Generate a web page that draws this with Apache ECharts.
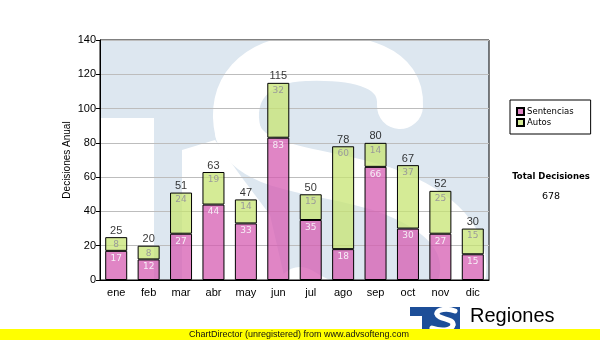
<!DOCTYPE html>
<html>
<head>
<meta charset="utf-8">
<script src="https://cdn.jsdelivr.net/npm/echarts@6/dist/echarts.min.js"></script>
<style>
  html, body { margin: 0; padding: 0; background: #fff; }
  #chart { width: 600px; height: 340px; }
</style>
</head>
<body>
<div id="chart"></div>
<script>
// Monthly decisions, split by type
const months = ['ene', 'feb', 'mar', 'abr', 'may', 'jun', 'jul', 'ago', 'sep', 'oct', 'nov', 'dic'];
const sentencias = [17, 12, 27, 44, 33, 83, 35, 18, 66, 30, 27, 15];
const autos = [8, 8, 24, 19, 14, 32, 15, 60, 14, 37, 25, 15];
const yTicks = { min: 0, max: 140, step: 20 };

const totals = months.map((m, i) => sentencias[i] + autos[i]);
const grandTotal = totals.reduce((a, b) => a + b, 0);

const chart = echarts.init(document.getElementById('chart'), null, { renderer: 'canvas' });

const sans = 'Liberation Sans, Arial, sans-serif';
const verd = 'DejaVu Sans, Verdana, sans-serif';

// Plot rectangle (pixels) used for the background emblem
const P = { x: 100, y: 40, w: 389, h: 240 };
const wash = '#dde7f0';

// a thick white stroke made of cubic segments [x1,y1,c1x,c1y,c2x,c2y,x2,y2]
function stroke(segs, width, z, cap) {
  return segs.map(s => ({
    type: 'bezierCurve', z: z, silent: true,
    shape: { x1: s[0], y1: s[1], cpx1: s[2], cpy1: s[3], cpx2: s[4], cpy2: s[5], x2: s[6], y2: s[7] },
    style: { fill: 'none', stroke: '#fff', lineWidth: width, lineCap: cap || 'round' }
  }));
}

const bigS = stroke([
  [400, 106, 402, 68, 362, 56, 305, 58],
  [305, 58, 255, 60, 228, 90, 238, 132],
  [238, 132, 250, 172, 330, 170, 385, 190],
  [385, 190, 440, 210, 470, 240, 462, 280],
  [462, 280, 455, 320, 360, 330, 300, 290]
], 46, -4);

const smallS = stroke([
  [455, 311, 448, 308, 436, 309, 437, 314],
  [437, 314, 438, 320, 454, 318, 453, 325],
  [453, 325, 452, 331, 440, 331, 432, 328]
], 5, 2);

const emblem = [
  // tinted plot background
  { type: 'rect', z: -5, silent: true, shape: { x: P.x, y: P.y, width: P.w, height: P.h }, style: { fill: wash } },
  // space beside the T stem
  { type: 'rect', z: -4, silent: true, shape: { x: P.x, y: 118, width: 54, height: 162 }, style: { fill: '#fff' } },
  { type: 'polygon', z: -4, silent: true,
    shape: { points: [[182, 150], [215, 140], [240, 175], [270, 215], [285, 280], [182, 280]] },
    style: { fill: '#fff' } },
  ...bigS,
  // small logo at the foot
  { type: 'rect', z: 1, silent: true, shape: { x: 410, y: 307, width: 50, height: 24 }, style: { fill: '#1d4e98' } },
  { type: 'rect', z: 1, silent: true, shape: { x: 410, y: 316, width: 12, height: 16 }, style: { fill: '#fff' } },
  ...smallS,
  { type: 'text', z: 2, silent: true, x: 470, y: 316,
    style: { text: 'Regiones', fill: '#000', font: '20px ' + sans, textVerticalAlign: 'middle' } },
  // footer band
  { type: 'rect', z: 3, silent: true, shape: { x: 0, y: 329, width: 600, height: 11 }, style: { fill: '#ffff00' } },
  { type: 'text', z: 4, silent: true, x: 299, y: 334.5,
    style: { text: 'ChartDirector (unregistered) from www.advsofteng.com', fill: '#111', font: '9px ' + sans, textAlign: 'center', textVerticalAlign: 'middle' } },
  // grand total
  { type: 'text', z: 4, silent: true, x: 551, y: 177,
    style: { text: 'Total Decisiones', fill: '#000', font: 'bold 8.5px ' + verd, textAlign: 'center', textVerticalAlign: 'middle' } },
  { type: 'text', z: 4, silent: true, x: 551, y: 197,
    style: { text: String(grandTotal), fill: '#000', font: '9.5px ' + verd, textAlign: 'center', textVerticalAlign: 'middle' } }
];

chart.setOption({
  animation: false,
  backgroundColor: '#fff',
  grid: {
    left: P.x, top: P.y, width: P.w, height: P.h,
    show: true, borderColor: '#000', borderWidth: 1, backgroundColor: 'transparent'
  },
  legend: {
    data: ['Sentencias', 'Autos'],
    orient: 'vertical', left: 510, top: 100,
    padding: [7, 17, 7, 6], itemGap: 2, itemWidth: 7, itemHeight: 7,
    borderColor: '#000', borderWidth: 1, backgroundColor: '#fff',
    icon: 'rect',
    textStyle: { fontSize: 8.5, fontFamily: verd, color: '#000', padding: [0, 0, 0, -2] }
  },
  xAxis: {
    type: 'category', data: months,
    axisLine: { lineStyle: { color: '#000', width: 1 } },
    axisTick: { alignWithLabel: true, length: 4, lineStyle: { color: '#000' } },
    axisLabel: { color: '#000', fontSize: 11, fontFamily: sans, margin: 7 }
  },
  yAxis: {
    type: 'value', min: yTicks.min, max: yTicks.max, interval: yTicks.step,
    name: 'Decisiones Anual', nameLocation: 'middle', nameGap: 28, nameRotate: 90,
    nameMoveOverlap: false,
    nameTextStyle: { color: '#000', fontSize: 10, fontFamily: sans },
    axisLine: { show: true, lineStyle: { color: '#000', width: 1 } },
    axisTick: { show: true, length: 4, lineStyle: { color: '#000' } },
    axisLabel: { color: '#000', fontSize: 11, fontFamily: sans, margin: 4 },
    splitLine: { lineStyle: { color: '#bdbdbd', width: 1 } }
  },
  graphic: { elements: emblem },
  series: [
    {
      name: 'Sentencias', type: 'bar', stack: 'total', barWidth: 22,
      data: sentencias,
      itemStyle: { color: 'rgba(214,92,178,0.75)', borderColor: '#000', borderWidth: 1 },
      label: { show: true, position: 'insideTop', distance: 3, color: '#f6eef6', fontSize: 9, fontFamily: verd }
    },
    {
      name: 'Autos', type: 'bar', stack: 'total', barWidth: 22,
      data: autos,
      itemStyle: { color: 'rgba(199,228,115,0.75)', borderColor: '#000', borderWidth: 1 },
      label: { show: true, position: 'insideTop', distance: 3, color: '#9a9a9a', fontSize: 9, fontFamily: verd }
    },
    {
      name: 'Total', type: 'scatter', data: totals, symbolSize: 0, z: 5,
      label: { show: true, position: 'top', distance: 1, color: '#000', fontSize: 11, fontFamily: sans,
               formatter: p => p.value }
    }
  ]
});
</script>
</body>
</html>
